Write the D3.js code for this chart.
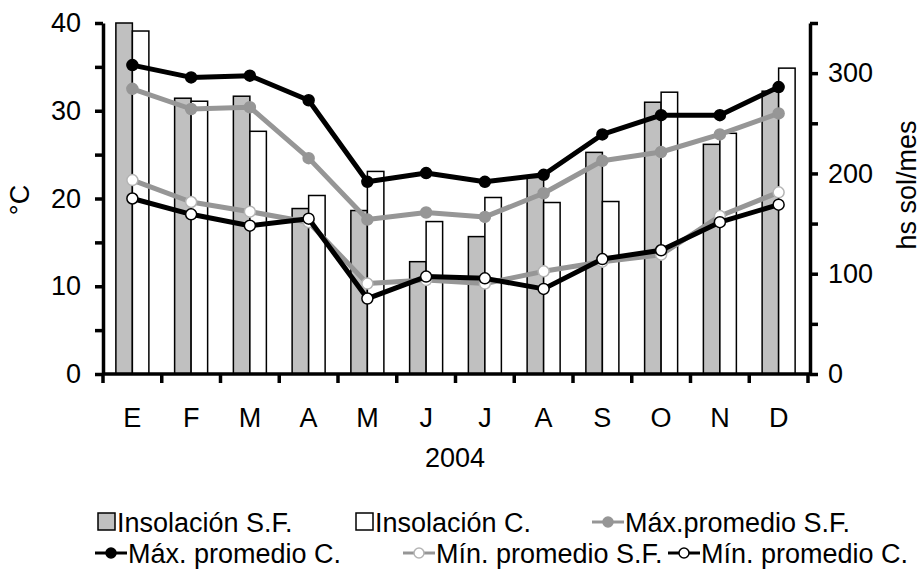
<!DOCTYPE html>
<html lang="es">
<head>
<meta charset="UTF-8">
<title>Insolación y temperaturas 2004</title>
<script src="https://d3js.org/d3.v7.min.js"></script>
<style>
  body { margin: 0; background: #fff; }
  svg { font-family: "Liberation Sans", Arial, sans-serif; }
</style>
</head>
<body>
<script>
// datos
const months = ["E", "F", "M", "A", "M", "J", "J", "A", "S", "O", "N", "D"];
const insolSF = [350, 275, 277, 165, 163, 112, 137, 196, 221, 271, 229, 282];
const insolC = [342, 272, 242, 178, 202, 152, 176, 171, 172, 281, 240, 305];
const maxSF = [32.5, 30.2, 30.4, 24.6, 17.6, 18.4, 17.9, 20.6, 24.3, 25.3, 27.3, 29.7];
const maxC = [35.2, 33.8, 34.0, 31.2, 21.9, 22.9, 21.9, 22.7, 27.3, 29.5, 29.5, 32.7];
const minSF = [22.1, 19.6, 18.5, 17.3, 10.3, 10.7, 10.3, 11.7, 12.8, 13.6, 18.0, 20.7];
const minC = [20.0, 18.2, 16.9, 17.7, 8.6, 11.1, 10.9, 9.7, 13.1, 14.1, 17.3, 19.3];

const width = 921, height = 572;
const mLeft = 103, mRight = 810, mTop = 23, mBottom = 374;
const gray = "#969696", barGray = "#c0c0c0";
const fs = 27;

const svg = d3.select("body").append("svg")
  .attr("width", width).attr("height", height)
  .style("font-size", fs + "px");

const idx = d3.range(months.length);
const x = d3.scaleBand().domain(idx).range([mLeft, 808]);
const sub = d3.scaleBand().domain(["sf", "c"]).range([0, x.bandwidth()])
  .paddingInner(0).paddingOuter(0.78);
const yT = d3.scaleLinear().domain([0, 40]).range([mBottom, mTop]);
const yH = d3.scaleLinear().domain([0, 350]).range([mBottom, mTop]);

// barras
const bars = [
  { key: "sf", vals: insolSF, fill: barGray },
  { key: "c", vals: insolC, fill: "#fff" }
];
bars.forEach(b => {
  svg.append("g").selectAll("rect")
    .data(b.vals)
    .join("rect")
    .attr("x", (d, i) => x(i) + sub(b.key))
    .attr("y", d => yH(d))
    .attr("width", sub.bandwidth())
    .attr("height", d => yH(0) - yH(d))
    .attr("fill", b.fill)
    .attr("stroke", "#000")
    .attr("stroke-width", 1.5);
});

// líneas
const series = [
  { vals: maxSF, line: gray, fill: gray, stroke: gray },
  { vals: maxC, line: "#000", fill: "#000", stroke: "#000" },
  { vals: minSF, line: gray, fill: "#fff", stroke: "#b4b4b4" },
  { vals: minC, line: "#000", fill: "#fff", stroke: "#000" }
];
const cx = i => x(i) + x.bandwidth() / 2;
series.forEach(s => {
  const line = d3.line().x((d, i) => cx(i)).y(d => yT(d));
  svg.append("path")
    .attr("d", line(s.vals))
    .attr("fill", "none")
    .attr("stroke", s.line)
    .attr("stroke-width", 5)
    .attr("stroke-linejoin", "round");
  svg.append("g").selectAll("circle")
    .data(s.vals)
    .join("circle")
    .attr("cx", (d, i) => cx(i))
    .attr("cy", d => yT(d))
    .attr("r", 5.5)
    .attr("fill", s.fill)
    .attr("stroke", s.stroke)
    .attr("stroke-width", 1.5);
});

// ejes
function styleAxis(g) {
  g.select(".domain").attr("stroke-width", 3.5);
  g.selectAll(".tick line").attr("stroke-width", 3.5);
  g.selectAll(".tick text").attr("font-size", fs).attr("fill", "#000")
    .attr("font-family", "Liberation Sans, Arial, sans-serif");
}

svg.append("g")
  .attr("transform", `translate(${mLeft},0)`)
  .call(d3.axisLeft(yT).tickValues(d3.range(0, 41, 5)).tickSize(8).tickSizeOuter(0)
    .tickPadding(14).tickFormat(d => d % 10 === 0 ? d : ""))
  .call(styleAxis);

svg.append("g")
  .attr("transform", `translate(${mRight},0)`)
  .call(d3.axisRight(yH).tickValues(d3.range(0, 351, 50)).tickSize(8).tickSizeOuter(0)
    .tickPadding(10).tickFormat(d => d % 100 === 0 ? d : ""))
  .call(styleAxis);

const xAxis = svg.append("g").attr("transform", `translate(0,${mBottom})`);
xAxis.append("line")
  .attr("x1", mLeft).attr("x2", mRight)
  .attr("stroke", "#000").attr("stroke-width", 3.5);
xAxis.selectAll("line.tk")
  .data(d3.range(months.length + 1))
  .join("line").attr("class", "tk")
  .attr("x1", i => mLeft + i * x.step()).attr("x2", i => mLeft + i * x.step())
  .attr("y1", 0).attr("y2", 9)
  .attr("stroke", "#000").attr("stroke-width", 3.5);
xAxis.selectAll("text")
  .data(months)
  .join("text")
  .attr("x", (d, i) => cx(i))
  .attr("y", 53)
  .attr("text-anchor", "middle")
  .text(d => d);

// títulos
svg.append("text").attr("x", 455).attr("y", 467).attr("text-anchor", "middle").text("2004");
svg.append("text").attr("transform", "translate(29,200) rotate(-90)")
  .attr("text-anchor", "middle").text("°C");
svg.append("text").attr("transform", "translate(916,185) rotate(-90)")
  .attr("text-anchor", "middle").text("hs sol/mes");

// leyenda
const legendRows = [
  [
    { label: "Insolación S.F.", type: "bar", fill: barGray, x: 97, y: 522 },
    { label: "Insolación C.", type: "bar", fill: "#fff", x: 355, y: 522 },
    { label: "Máx.promedio S.F.", type: "line", s: series[0], x: 592, y: 522 }
  ],
  [
    { label: "Máx. promedio C.", type: "line", s: series[1], x: 95, y: 553 },
    { label: "Mín. promedio S.F.", type: "line", s: series[2], x: 403, y: 553 },
    { label: "Mín. promedio C.", type: "line", s: series[3], x: 668, y: 553 }
  ]
];
legendRows.flat().forEach(it => {
  const g = svg.append("g").attr("transform", `translate(${it.x},${it.y})`);
  let tx;
  if (it.type === "bar") {
    g.append("rect").attr("x", 1).attr("y", -9).attr("width", 17).attr("height", 17)
      .attr("fill", it.fill).attr("stroke", "#000").attr("stroke-width", 1.5);
    tx = 20;
  } else {
    g.append("line").attr("x1", 0).attr("x2", 32).attr("y1", 0).attr("y2", 0)
      .attr("stroke", it.s.line).attr("stroke-width", 3);
    g.append("circle").attr("cx", 16).attr("cy", 0).attr("r", 5)
      .attr("fill", it.s.fill).attr("stroke", it.s.stroke).attr("stroke-width", 1.5);
    tx = 33;
  }
  g.append("text").attr("x", tx).attr("y", 10).attr("font-size", 27).text(it.label);
});
</script>
</body>
</html>
